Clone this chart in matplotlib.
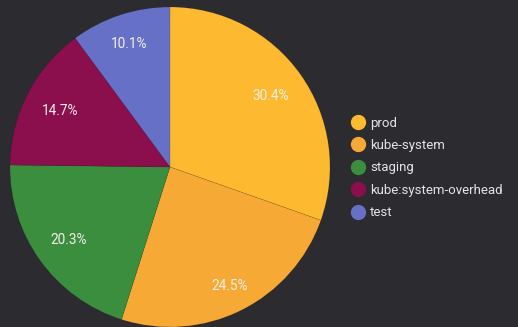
import matplotlib
matplotlib.use("Agg")
import matplotlib.pyplot as plt
from matplotlib.lines import Line2D
import numpy as np

categories = ["prod", "kube-system", "staging", "kube:system-overhead", "test"]
values = [30.4, 24.5, 20.3, 14.7, 10.1]
colors = ["#FDB92F", "#F7A936", "#3C8E3F", "#8B0E4D", "#6670C6"]
label_radius = [0.77, 0.83, 0.78, 0.77, 0.81]

bg = "#2c2b2f"
plt.rcParams['font.family'] = ['Roboto', 'DejaVu Sans']

fig = plt.figure(figsize=(5.18, 3.27), dpi=100, facecolor=bg)
ax = fig.add_axes([10/518, 0/327, 320/518, 320/327])
ax.set_facecolor(bg)
wedges, _ = ax.pie(values, colors=colors, startangle=90, counterclock=False,
                   radius=1, wedgeprops=dict(linewidth=0.4, edgecolor=(0, 0, 0, 0.15)))
for w, v, r in zip(wedges, values, label_radius):
    ang = np.deg2rad((w.theta1 + w.theta2) / 2)
    ax.text(r * np.cos(ang), r * np.sin(ang), f"{v:.1f}%", ha="center", va="center",
            color="#f3f0ea", fontsize=9.8)
ax.set_xlim(-1, 1)
ax.set_ylim(-1, 1)
ax.set_aspect("equal")
ax.axis("off")

handles = [Line2D([], [], marker="o", linestyle="none", markersize=10,
                  markerfacecolor=c, markeredgecolor=c) for c in colors]
leg = fig.legend(handles, categories, loc="center left", bbox_to_anchor=(336/518, 1 - 168/327),
                 frameon=False, labelcolor="#e4e4e4", fontsize=9.5, handletextpad=0.2,
                 labelspacing=0.72, handlelength=1.5)
fig.savefig("out.png", dpi=100, facecolor=bg)
